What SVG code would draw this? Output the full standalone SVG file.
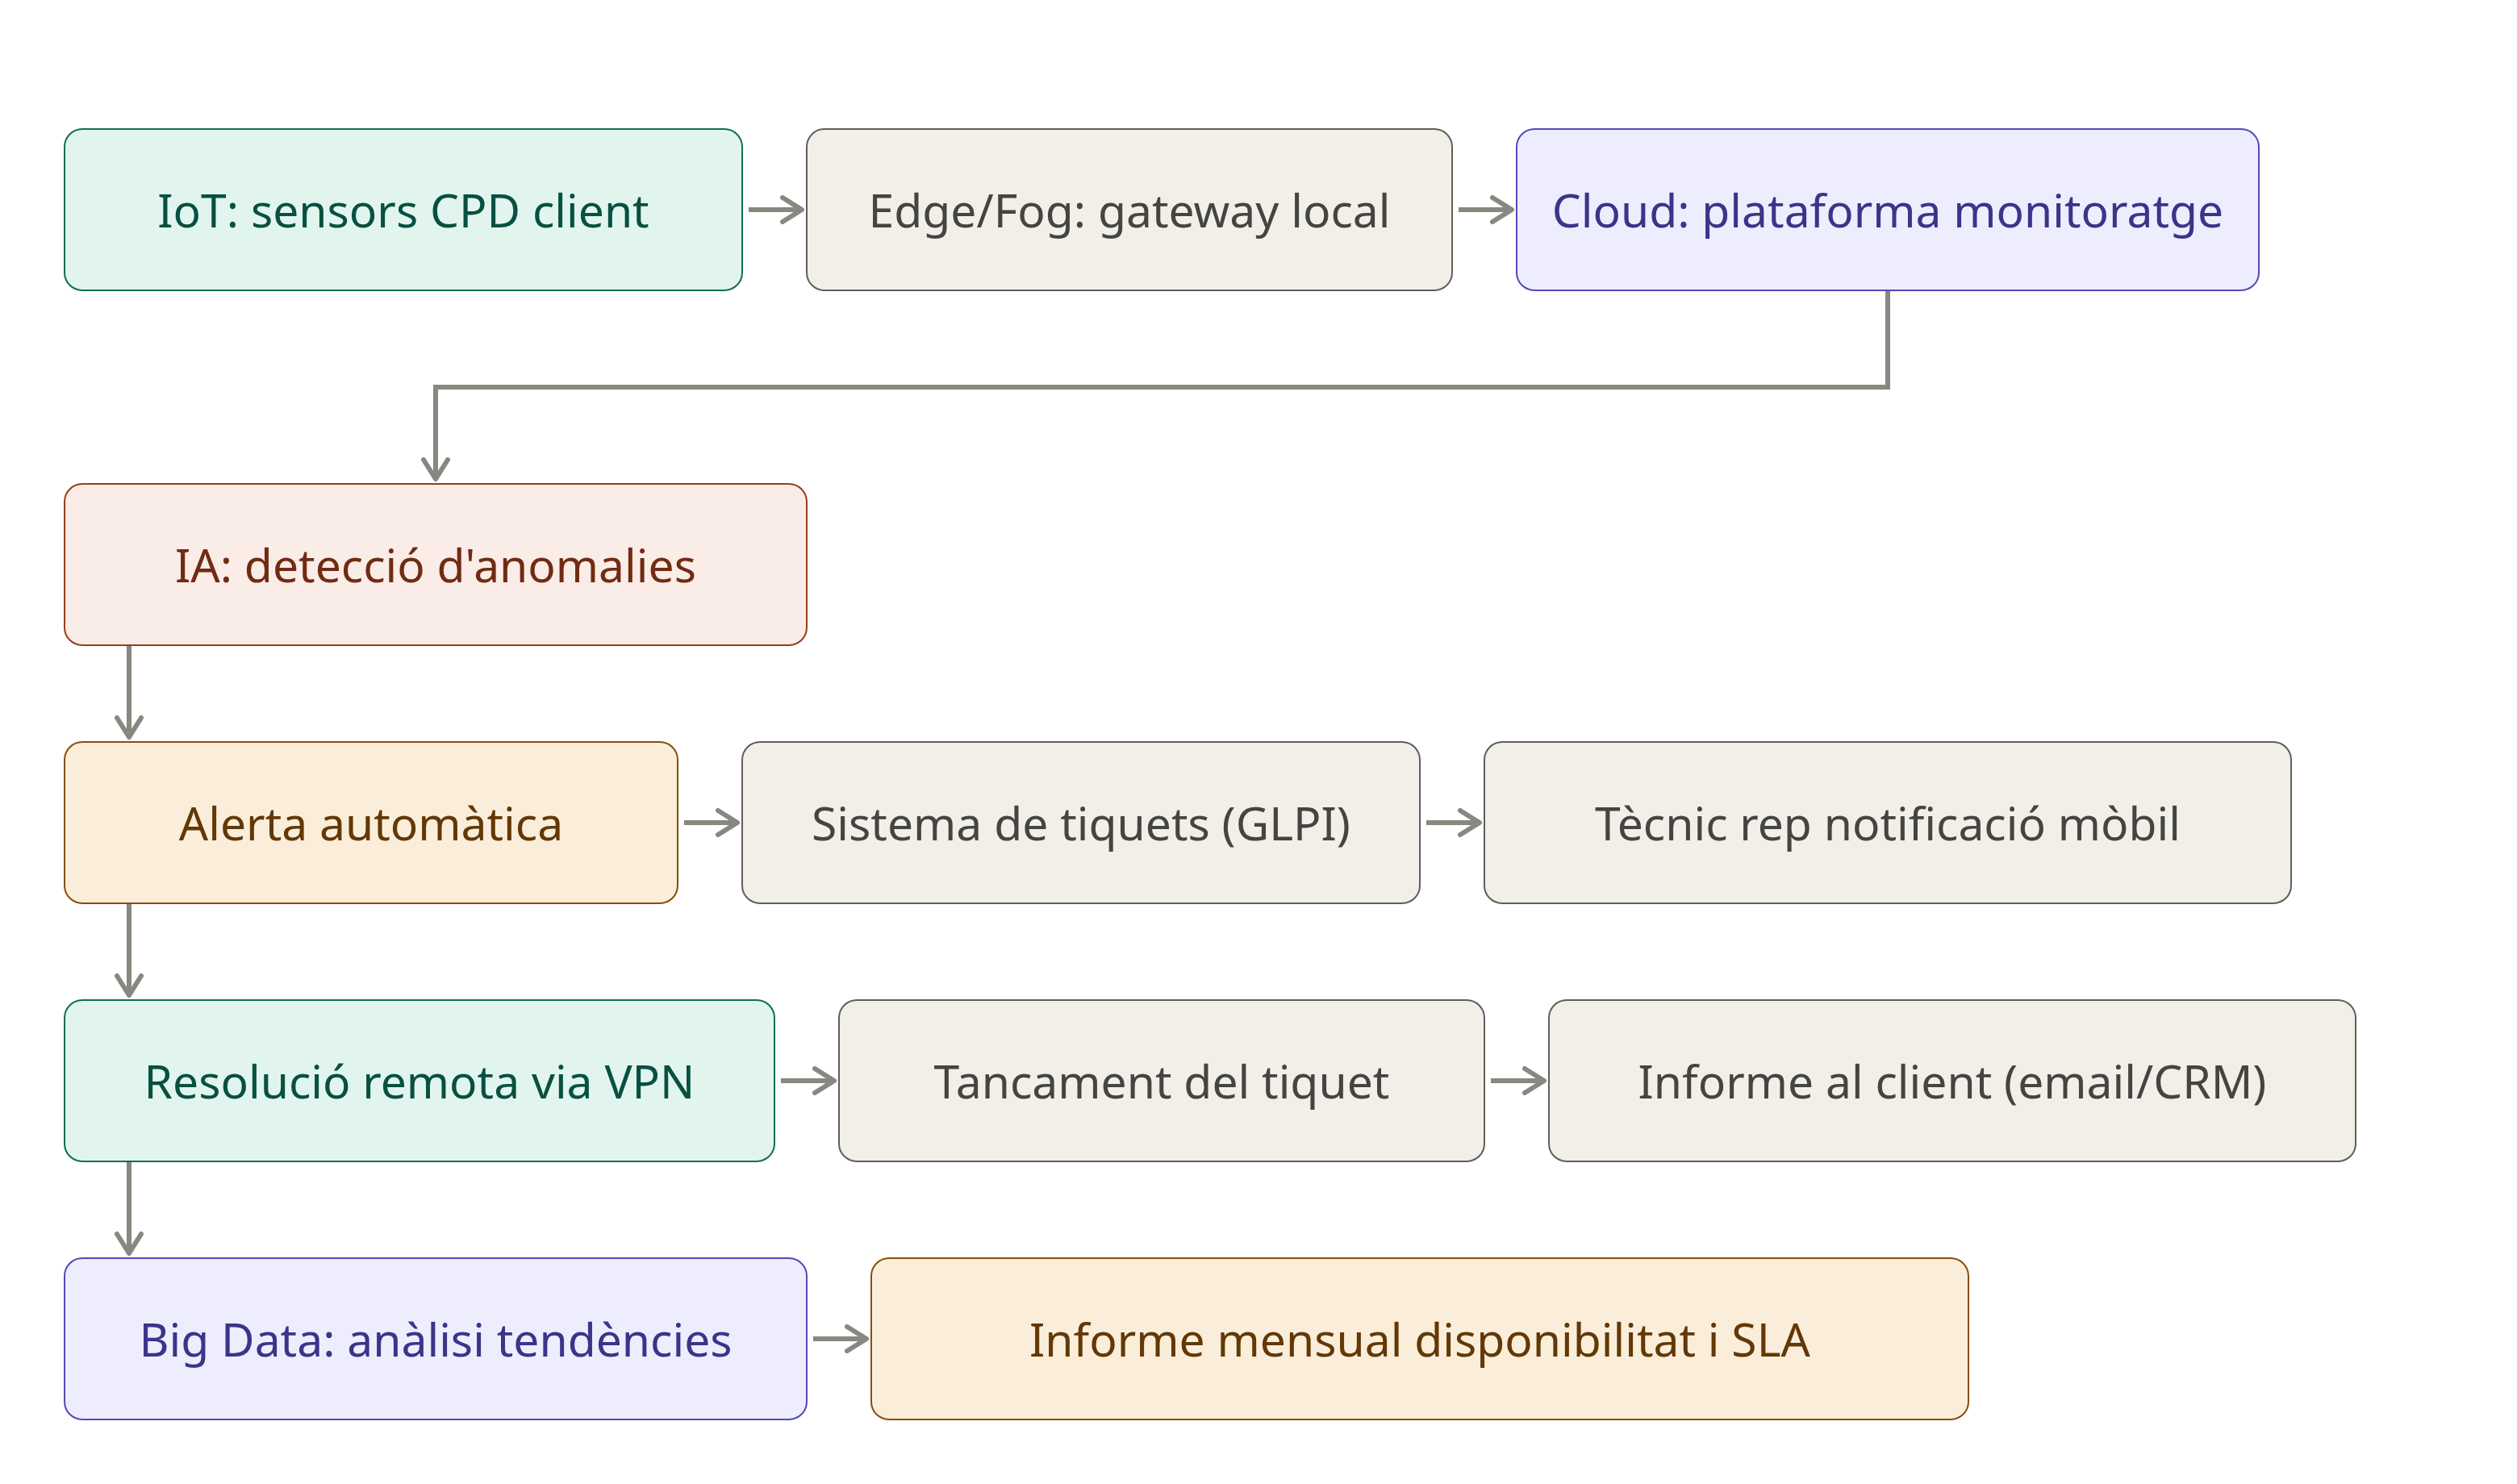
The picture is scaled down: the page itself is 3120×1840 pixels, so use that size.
<svg xmlns="http://www.w3.org/2000/svg" width="3120" height="1840" viewBox="0 0 3120 1840">
<style>
rect{stroke-width:2}
text{font-family:"Noto Sans","Open Sans","DejaVu Sans",sans-serif;font-size:57px;text-anchor:middle;dominant-baseline:central}
.teal rect{fill:#E1F5EE;stroke:#0F6E56}.teal text{fill:#085041}
.gray rect{fill:#F1EFE8;stroke:#5F5E5A}.gray text{fill:#444441}
.purple rect{fill:#EEEDFE;stroke:#534AB7}.purple text{fill:#3C3489}
.coral rect{fill:#FAECE7;stroke:#993C1D}.coral text{fill:#712B13}
.amber rect{fill:#FAEEDA;stroke:#854F0B}.amber text{fill:#633806}
#connectors path{fill:none;stroke:#888780;stroke-width:6}
</style>
<defs>
<marker id="arr" viewBox="0 0 30 36" refX="27" refY="18" markerWidth="30" markerHeight="36" markerUnits="userSpaceOnUse" orient="auto">
<path d="M3 3 L27 18 L3 33" fill="none" stroke="#888780" stroke-width="6" stroke-linecap="round" stroke-linejoin="round"/>
</marker>
</defs>
<rect width="3120" height="1840" fill="#FFFFFF"/>
<g id="connectors">
<path d="M928 260 H994" marker-end="url(#arr)"/>
<path d="M1808 260 H1874" marker-end="url(#arr)"/>
<path d="M2340 360 V480 H540 V594" marker-end="url(#arr)"/>
<path d="M160 800 V914" marker-end="url(#arr)"/>
<path d="M848 1020 H914" marker-end="url(#arr)"/>
<path d="M1768 1020 H1834" marker-end="url(#arr)"/>
<path d="M160 1120 V1234" marker-end="url(#arr)"/>
<path d="M968 1340 H1034" marker-end="url(#arr)"/>
<path d="M1848 1340 H1914" marker-end="url(#arr)"/>
<path d="M160 1440 V1554" marker-end="url(#arr)"/>
<path d="M1008 1660 H1074" marker-end="url(#arr)"/>
</g>
<g id="iot" class="teal"><rect x="80" y="160" width="840" height="200" rx="22"/><text x="500" y="260">IoT: sensors CPD client</text></g>
<g id="edge" class="gray"><rect x="1000" y="160" width="800" height="200" rx="22"/><text x="1400" y="260">Edge/Fog: gateway local</text></g>
<g id="cloud" class="purple"><rect x="1880" y="160" width="920" height="200" rx="22"/><text x="2340" y="260">Cloud: plataforma monitoratge</text></g>
<g id="ia" class="coral"><rect x="80" y="600" width="920" height="200" rx="22"/><text x="540" y="700">IA: detecció d'anomalies</text></g>
<g id="alerta" class="amber"><rect x="80" y="920" width="760" height="200" rx="22"/><text x="460" y="1020">Alerta automàtica</text></g>
<g id="tiquets" class="gray"><rect x="920" y="920" width="840" height="200" rx="22"/><text x="1340" y="1020">Sistema de tiquets (GLPI)</text></g>
<g id="tecnic" class="gray"><rect x="1840" y="920" width="1000" height="200" rx="22"/><text x="2340" y="1020">Tècnic rep notificació mòbil</text></g>
<g id="resolucio" class="teal"><rect x="80" y="1240" width="880" height="200" rx="22"/><text x="520" y="1340">Resolució remota via VPN</text></g>
<g id="tancament" class="gray"><rect x="1040" y="1240" width="800" height="200" rx="22"/><text x="1440" y="1340">Tancament del tiquet</text></g>
<g id="informe" class="gray"><rect x="1920" y="1240" width="1000" height="200" rx="22"/><text x="2420" y="1340">Informe al client (email/CRM)</text></g>
<g id="bigdata" class="purple"><rect x="80" y="1560" width="920" height="200" rx="22"/><text x="540" y="1660">Big Data: anàlisi tendències</text></g>
<g id="mensual" class="amber"><rect x="1080" y="1560" width="1360" height="200" rx="22"/><text x="1760" y="1660">Informe mensual disponibilitat i SLA</text></g>
</svg>
